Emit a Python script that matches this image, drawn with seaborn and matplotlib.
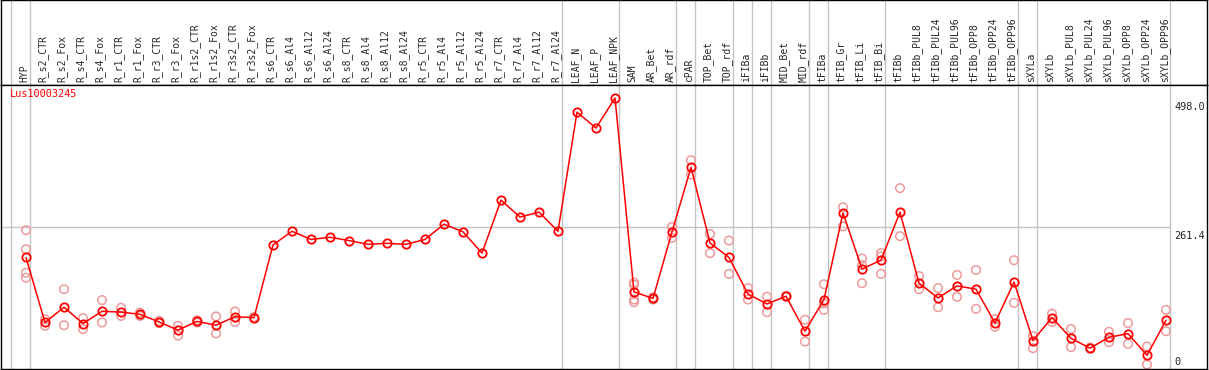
import numpy as np
import pandas as pd
import matplotlib
matplotlib.use('Agg')
import matplotlib.pyplot as plt
import matplotlib.transforms as mtransforms
import seaborn as sns

# categorias (muestras)
samples = ['HYP', 'R_s2_CTR', 'R_s2_Fox', 'R_s4_CTR', 'R_s4_Fox', 'R_r1_CTR', 'R_r1_Fox',
           'R_r3_CTR', 'R_r3_Fox', 'R_r1s2_CTR', 'R_r1s2_Fox', 'R_r3s2_CTR', 'R_r3s2_Fox',
           'R_s6_CTR', 'R_s6_Al4', 'R_s6_Al12', 'R_s6_Al24', 'R_s8_CTR', 'R_s8_Al4', 'R_s8_Al12',
           'R_s8_Al24', 'R_r5_CTR', 'R_r5_Al4', 'R_r5_Al12', 'R_r5_Al24', 'R_r7_CTR', 'R_r7_Al4',
           'R_r7_Al12', 'R_r7_Al24', 'LEAF_N', 'LEAF_P', 'LEAF_NPK', 'SAM', 'AR_Bet', 'AR_rdf',
           'cPAR', 'TOP_Bet', 'TOP_rdf', 'iFIBa', 'iFIBb', 'MID_Bet', 'MID_rdf', 'tFIBa',
           'tFIB_Gr', 'tFIB_Li', 'tFIB_Bi', 'tFIBb', 'tFIBb_PUL8', 'tFIBb_PUL24', 'tFIBb_PUL96',
           'tFIBb_OPP8', 'tFIBb_OPP24', 'tFIBb_OPP96', 'sXYLa', 'sXYLb', 'sXYLb_PUL8',
           'sXYLb_PUL24', 'sXYLb_PUL96', 'sXYLb_OPP8', 'sXYLb_OPP24', 'sXYLb_OPP96']

# media de expresion
means = [206, 87, 115, 85, 107.5, 106, 102, 88, 73, 89, 82, 97.6, 95.8,
         229, 254, 239, 243, 237, 230, 232, 230, 239, 267, 253, 214, 311, 280, 289, 254,
         472, 443, 498, 143, 131, 253, 371, 232.5, 206, 139, 121, 135, 71, 129,
         287.5, 185, 201, 289, 159, 132, 154, 148, 86, 161,
         54, 96, 58, 40, 60, 66.5, 27, 91]

# replicas
reps = [[256, 221, 178, 169], [93, 81], [148, 82], [95, 75], [128, 87], [114, 99], [105, 99],
        [90, 86], [81, 63], [91, 87], [98, 67], [107, 88], [97, 95],
        [], [], [], [], [], [], [], [], [], [], [], [], [], [], [], [],
        [], [], [], [160, 156, 129, 124], [133, 129], [262, 242], [384, 358], [249, 214],
        [237, 176], [150, 129], [134, 106], [136, 134], [92, 52], [157, 122, 110],
        [298, 263], [204, 192, 159], [214, 208, 176], [333, 245], [172, 148], [150, 115],
        [174, 134], [183, 112], [93, 79], [201, 123],
        [62, 40], [103, 88], [75, 42], [41, 39], [70, 51], [86, 48], [43, 10], [110, 71]]

# ultimo indice de cada grupo (lineas grises)
group_ends = [-1, 0, 28, 31, 34, 35, 37, 38, 39, 41, 42, 45, 52, 53, 60]

gene = 'Lus10003245'
yticks = [0, 261.4, 498.0]

df = pd.DataFrame({'pos': np.arange(len(samples)), 'sample': samples, 'mean': means})
rep_df = pd.DataFrame([(i, v) for i, r in enumerate(reps) for v in r], columns=['pos', 'value'])

sns.set_style('white')
plt.rcParams['font.family'] = ['DejaVu Sans Mono']

W, H = 1209, 370
fig = plt.figure(figsize=(W / 100, H / 100), dpi=100)

# px -> datos en x
x0 = (1 - 26) / 19
x1 = (1207 - 26) / 19
ax_right = 60 + 4 / 19

head = fig.add_axes([1 / W, (H - 85) / H, 1206 / W, 85 / H])
ax = fig.add_axes([1 / W, 1 / H, 1206 / W, 284 / H])

for a in (head, ax):
    a.set_xlim(x0, x1)
    for g in group_ends:
        a.axvline(g + 4 / 19, color='#c4c4c4', lw=1, zorder=0)
    a.set_xticks([])
    a.set_yticks([])
    for s in a.spines.values():
        s.set_color('black')
        s.set_linewidth(1)

head.set_ylim(0, 1)
tr = mtransforms.blended_transform_factory(head.transData, head.transAxes)
for i, name in enumerate(samples):
    head.text(i - 0.1, 0.04, name, rotation=90, ha='center', va='bottom',
              fontsize=7.0, transform=tr)

ax.set_ylim((370 - 369) * 498 / 272, (370 - 85) * 498 / 272)
ax.hlines(261.4, x0, ax_right, color='#c4c4c4', lw=1, zorder=0)

sns.scatterplot(data=rep_df, x='pos', y='value', ax=ax, marker='o', s=38,
                facecolor='none', edgecolor='#ee9a9a', linewidth=1.1, zorder=2, legend=False)
sns.lineplot(data=df, x='pos', y='mean', ax=ax, color='#ff0000', lw=1.1, marker='o',
             markersize=6.0, markerfacecolor='none', markeredgecolor='#ff0000',
             markeredgewidth=1.3, zorder=3)
ax.set_xlabel('')
ax.set_ylabel('')
ax.set_xticks([])
ax.set_yticks([])

ax.text(0.007, 0.985, gene, transform=ax.transAxes, color='#ff0000', fontsize=7.4,
        ha='left', va='top')

for v in yticks:
    va = 'bottom' if v == 0 else 'top'
    off = 3 if v == 0 else -4
    ax.annotate(f'{v:g}' if v == 0 else f'{v:.1f}', xy=(ax_right, v),
                xytext=(4, off), textcoords='offset pixels', fontsize=7.4,
                ha='left', va=va, annotation_clip=False, clip_on=True)

fig.savefig('out.png', dpi=100)
